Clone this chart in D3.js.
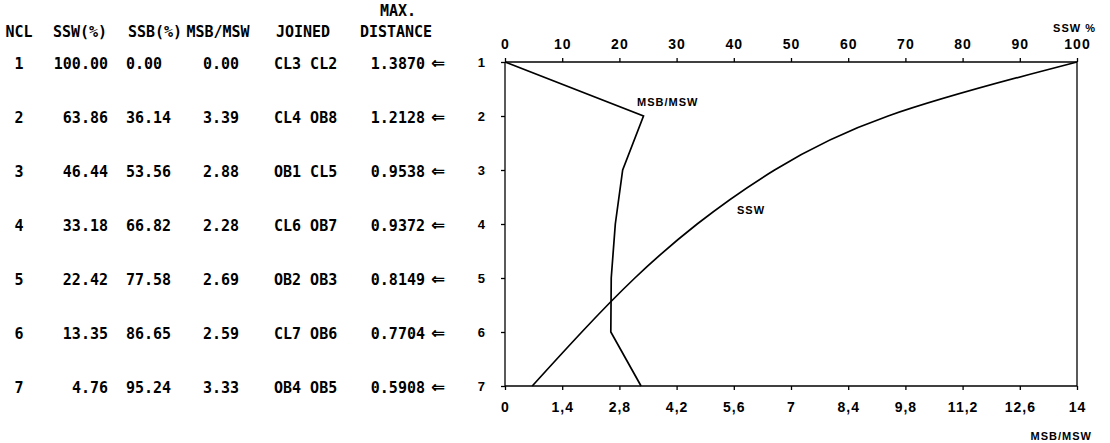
<!DOCTYPE html>
<html><head><meta charset="utf-8">
<script src="https://cdn.jsdelivr.net/npm/d3@7"></script>
<style>body{margin:0;background:#fff}svg{display:block}</style>
</head><body><svg id="c" width="1110" height="443"></svg>
<script>
// ---- data ----
const ncl = [1, 2, 3, 4, 5, 6, 7];
const sswPct = [100.00, 63.86, 46.44, 33.18, 22.42, 13.35, 4.76];
const ssbPct = [0.00, 36.14, 53.56, 66.82, 77.58, 86.65, 95.24];
const msbMswTable = ["0.00", "3.39", "2.88", "2.28", "2.69", "2.59", "3.33"];
const msbMswPlot = [0.00, 3.39, 2.88, 2.70, 2.60, 2.59, 3.33];
const joined = ["CL3 CL2", "CL4 OB8", "OB1 CL5", "CL6 OB7", "OB2 OB3", "CL7 OB6", "OB4 OB5"];
const maxDistance = ["1.3870", "1.2128", "0.9538", "0.9372", "0.8149", "0.7704", "0.5908"];
const sswTicks = [0, 10, 20, 30, 40, 50, 60, 70, 80, 90, 100];
const msbTicks = [0, 1.4, 2.8, 4.2, 5.6, 7, 8.4, 9.8, 11.2, 12.6, 14];

const svg = d3.select("#c");
const x0 = 505, x1 = 1077, yTop = 62, yBot = 386;
const xS = d3.scaleLinear().domain([0, 100]).range([x0, x1]);
const xM = d3.scaleLinear().domain([0, 14]).range([x0, x1]);
const yS = d3.scaleLinear().domain([1, 7]).range([yTop, yBot]);

// ---- table ----
const tf = "'DejaVu Sans Mono', monospace";
const tab = svg.append("g").attr("font-family", tf).attr("font-weight", "bold")
  .attr("font-size", 15).attr("fill", "#000");
const hdrY = 37;
const head = [["NCL", 19, "middle"], ["SSW(%)", 80, "middle"], ["SSB(%)", 155, "middle"],
  ["MSB/MSW", 218, "middle"], ["JOINED", 303, "middle"], ["DISTANCE", 396, "middle"]];
head.forEach(h => tab.append("text").attr("x", h[1]).attr("y", hdrY).attr("text-anchor", h[2]).text(h[0]));
tab.append("text").attr("x", 398).attr("y", hdrY - 21).attr("text-anchor", "middle").text("MAX.");

ncl.forEach((n, i) => {
  const y = yS(n) + 7;
  tab.append("text").attr("x", 19).attr("y", y).attr("text-anchor", "middle").text(n);
  tab.append("text").attr("x", 108).attr("y", y).attr("text-anchor", "end").text(sswPct[i].toFixed(2));
  tab.append("text").attr("x", 126).attr("y", y).attr("text-anchor", "start").text(ssbPct[i].toFixed(2));
  tab.append("text").attr("x", 239).attr("y", y).attr("text-anchor", "end").text(msbMswTable[i]);
  tab.append("text").attr("x", 274).attr("y", y).attr("text-anchor", "start").text(joined[i]);
  tab.append("text").attr("x", 425).attr("y", y).attr("text-anchor", "end").text(maxDistance[i]);
  tab.append("text").attr("x", 431).attr("y", y).attr("text-anchor", "start")
    .attr("font-family", "'DejaVu Sans', sans-serif").attr("font-size", 17).text("⇐");
});

// ---- plot ----
const pf = "'Liberation Sans', Arial, sans-serif";
const g = svg.append("g").attr("font-family", pf).attr("font-weight", "bold").attr("fill", "#000");

const topAx = d3.axisTop(xS).tickValues(sswTicks).tickSize(4).tickPadding(9).tickFormat(d3.format("d"));
const gt = g.append("g").attr("transform", `translate(0,${yTop})`).call(topAx);
const botAx = d3.axisBottom(xM).tickValues(msbTicks).tickSize(4).tickPadding(12)
  .tickFormat(d => String(d).replace(".", ","));
const gb = g.append("g").attr("transform", `translate(0,${yBot})`).call(botAx);
const leftAx = d3.axisLeft(yS).tickValues(ncl).tickSize(4).tickPadding(15).tickFormat(d3.format("d"));
const gl = g.append("g").attr("transform", `translate(${x0},0)`).call(leftAx);

[gt, gb, gl].forEach(a => {
  a.select(".domain").remove();
  a.selectAll(".tick line").attr("stroke", "#000").attr("stroke-width", 1.3);
  a.selectAll("text").attr("font-family", pf).attr("font-weight", "bold")
    .attr("font-size", 14).attr("fill", "#000").attr("letter-spacing", 1);
});
gl.selectAll("text").attr("font-size", 13);

// frame
const frame = g.append("g").attr("stroke", "#000").attr("stroke-width", 1.3).attr("fill", "none");
frame.append("line").attr("x1", xS(0)).attr("x2", xS(100)).attr("y1", yS(1)).attr("y2", yS(1));
frame.append("line").attr("x1", xM(0)).attr("x2", xM(14)).attr("y1", yS(7)).attr("y2", yS(7));
frame.append("line").attr("x1", xS(0)).attr("x2", xS(0)).attr("y1", yS(1)).attr("y2", yS(7));
frame.append("line").attr("x1", xS(100)).attr("x2", xS(100)).attr("y1", yS(1)).attr("y2", yS(7));

// SSW curve
const sswLine = d3.line().x(d => xS(d[0])).y(d => yS(d[1])).curve(d3.curveBasis);
g.append("path").datum(sswPct.map((v, i) => [v, ncl[i]]))
  .attr("d", sswLine).attr("fill", "none").attr("stroke", "#000").attr("stroke-width", 1.7);
// MSB/MSW line
const msbLine = d3.line().x(d => xM(d[0])).y(d => yS(d[1]));
g.append("path").datum(msbMswPlot.map((v, i) => [v, ncl[i]]))
  .attr("d", msbLine).attr("fill", "none").attr("stroke", "#000").attr("stroke-width", 1.7);

// labels
g.append("text").attr("x", 637).attr("y", 106).attr("font-size", 11).attr("letter-spacing", 1).text("MSB/MSW");
g.append("text").attr("x", 737).attr("y", 214).attr("font-size", 11).attr("letter-spacing", 1).text("SSW");
g.append("text").attr("x", 1096).attr("y", 32).attr("text-anchor", "end").attr("font-size", 11).attr("letter-spacing", 1).text("SSW %");
g.append("text").attr("x", 1092).attr("y", 440).attr("text-anchor", "end").attr("font-size", 11).attr("letter-spacing", 1).text("MSB/MSW");
</script></body></html>
